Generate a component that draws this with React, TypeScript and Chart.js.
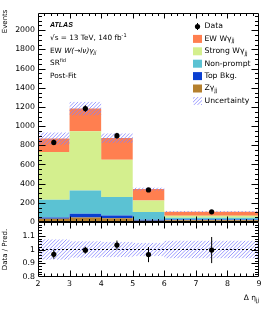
import React, { useEffect, useRef } from "react";
import { Chart, registerables } from "chart.js";

Chart.register(...registerables);

// ---------------- data ----------------
const binEdges = [2, 3, 4, 5, 6, 9];
const binCenters = [2.5, 3.5, 4.5, 5.5, 7.5];
const xTickValues = [2, 3, 4, 5, 6, 7, 8, 9];
const mainTickValues = [0, 200, 400, 600, 800, 1000, 1200, 1400, 1600, 1800, 2000];
const ratioTickValues = [0.8, 0.9, 1.0, 1.1];

// per-sample yields (stack order bottom -> top)
const zgjj = [33, 48, 38, 14, 17];
const topBkg = [15, 39, 31, 10, 10];
const nonPrompt = [184, 241, 192, 81, 18];
const strongWgjj = [498, 618, 389, 118, 21];
const ewWgjj = [140, 237, 225, 121, 42];

const uncertainty = [65, 72, 50, 17, 7];

const dataValues = [830, 1183, 900, 335, 106];
const dataErrors = [29, 34, 30, 18, 10];

const ratioValues = [0.965, 0.995, 1.032, 0.963, 0.996];
const ratioErrors = [0.032, 0.025, 0.033, 0.055, 0.095];

const sampleNames = ["Zγjj", "Top Bkg.", "Non-prompt", "Strong Wγjj", "EW Wγjj"];
const sampleColors = ["#b5802e", "#0a3fd1", "#5bc2d3", "#d4ef8e", "#ff7f50"];

const FONT = "DejaVu Sans";
const HATCH = "rgb(128,128,255)";

const stepPoints = (vals: number[]) =>
  binEdges.map((x, i) => ({ x, y: vals[Math.min(i, vals.length - 1)] }));

type Seg = { t: string; f: string; dy?: number };
function drawRich(ctx: CanvasRenderingContext2D, segs: Seg[], x: number, y: number) {
  let cx = x;
  for (const s of segs) {
    ctx.font = s.f;
    ctx.fillText(s.t, cx, y + (s.dy || 0));
    cx += ctx.measureText(s.t).width;
  }
}
function richWidth(ctx: CanvasRenderingContext2D, segs: Seg[]) {
  let w = 0;
  for (const s of segs) {
    ctx.font = s.f;
    w += ctx.measureText(s.t).width;
  }
  return w;
}

// diagonal "/" hatch inside a rectangle
function drawHatch(ctx: CanvasRenderingContext2D, x0: number, x1: number, y0: number, y1: number) {
  const top = Math.min(y0, y1);
  const bot = Math.max(y0, y1);
  ctx.save();
  ctx.beginPath();
  ctx.rect(x0, top, x1 - x0, bot - top);
  ctx.clip();
  ctx.strokeStyle = HATCH;
  ctx.lineWidth = 0.8;
  ctx.beginPath();
  const sp = 3.6;
  const kStart = Math.floor((x0 + top) / sp) * sp;
  for (let k = kStart; k <= x1 + bot + sp; k += sp) {
    ctx.moveTo(k - bot, bot);
    ctx.lineTo(k - top, top);
  }
  ctx.stroke();
  ctx.restore();
}

export default function App() {
  const ref = useRef<HTMLCanvasElement | null>(null);

  useEffect(() => {
    const canvas = ref.current;
    if (!canvas) return;

    // cumulative stacks
    const layers: number[][] = [zgjj, topBkg, nonPrompt, strongWgjj, ewWgjj];
    const cum: number[][] = [];
    layers.forEach((l, k) => {
      cum.push(l.map((v, i) => v + (k > 0 ? cum[k - 1][i] : 0)));
    });
    const total = cum[cum.length - 1];

    const stackDatasets = cum.map((vals, k) => ({
      label: sampleNames[k],
      data: stepPoints(vals),
      yAxisID: "y",
      stepped: true,
      fill: k === 0 ? "origin" : "-1",
      backgroundColor: sampleColors[k],
      borderColor: "rgba(0,0,0,0)",
      borderWidth: 0,
      pointRadius: 0,
      order: 5,
    }));

    const datasets: any[] = [
      ...stackDatasets,
      {
        label: "Data",
        data: binCenters.map((x, i) => ({ x, y: dataValues[i] })),
        yAxisID: "y",
        showLine: false,
        pointRadius: 2.6,
        pointBackgroundColor: "#000",
        pointBorderWidth: 0,
        borderColor: "#000",
        order: 1,
      },
      {
        label: "unity",
        data: [
          { x: binEdges[0], y: 1 },
          { x: binEdges[binEdges.length - 1], y: 1 },
        ],
        yAxisID: "y2",
        borderColor: "#000",
        borderWidth: 1,
        borderDash: [2, 2],
        pointRadius: 0,
        fill: false,
        order: 2,
      },
      {
        label: "Ratio",
        data: binCenters.map((x, i) => ({ x, y: ratioValues[i] })),
        yAxisID: "y2",
        showLine: false,
        pointRadius: 2.6,
        pointBackgroundColor: "#000",
        pointBorderWidth: 0,
        borderColor: "#000",
        order: 1,
      },
    ];

    const tickFont = { family: FONT, size: 7.8 };

    const decorations = {
      id: "decorations",
      afterDatasetDraw(chart: any, args: any) {
        if (args.index !== 0) return; // last stack layer drawn
        const ctx: CanvasRenderingContext2D = chart.ctx;
        const xs = chart.scales.x;
        const ys = chart.scales.y;
        const yr = chart.scales.y2;
        for (let i = 0; i < total.length; i++) {
          const x0 = xs.getPixelForValue(binEdges[i]);
          const x1 = xs.getPixelForValue(binEdges[i + 1]);
          drawHatch(
            ctx,
            x0,
            x1,
            ys.getPixelForValue(total[i] - uncertainty[i]),
            ys.getPixelForValue(total[i] + uncertainty[i])
          );
          const rel = uncertainty[i] / total[i];
          drawHatch(ctx, x0, x1, yr.getPixelForValue(1 - rel), yr.getPixelForValue(1 + rel));
        }
      },
      afterDatasetsDraw(chart: any) {
        const ctx: CanvasRenderingContext2D = chart.ctx;
        const xs = chart.scales.x;
        const ys = chart.scales.y;
        const yr = chart.scales.y2;
        ctx.save();
        ctx.strokeStyle = "#000";
        ctx.lineWidth = 1;
        // error bars
        binCenters.forEach((x, i) => {
          const px = xs.getPixelForValue(x);
          ctx.beginPath();
          ctx.moveTo(px, ys.getPixelForValue(dataValues[i] - dataErrors[i]));
          ctx.lineTo(px, ys.getPixelForValue(dataValues[i] + dataErrors[i]));
          ctx.moveTo(px, yr.getPixelForValue(ratioValues[i] - ratioErrors[i]));
          ctx.lineTo(px, yr.getPixelForValue(ratioValues[i] + ratioErrors[i]));
          ctx.stroke();
        });
        ctx.restore();
      },
      afterDraw(chart: any) {
        const ctx: CanvasRenderingContext2D = chart.ctx;
        const xs = chart.scales.x;
        const ys = chart.scales.y;
        const yr = chart.scales.y2;
        ctx.save();
        ctx.strokeStyle = "#000";
        ctx.fillStyle = "#000";
        ctx.lineWidth = 1;

        const panel = (
          y: any,
          lo: number,
          hi: number,
          step: number,
          major: number,
          yMaj: number,
          yMin: number,
          xMaj: number,
          xMin: number
        ) => {
          const l = Math.round(xs.left) + 0.5;
          const r = Math.round(xs.right) - 0.5;
          const t = Math.round(y.top) + 0.5;
          const b = Math.round(y.bottom) - 0.5;
          ctx.beginPath();
          ctx.rect(l, t, r - l, b - t);
          const n = Math.round((hi - lo) / step);
          for (let i = 1; i < n; i++) {
            const v = lo + i * step;
            if (v >= y.max - 1e-9) continue;
            const isMaj = Math.abs(v / major - Math.round(v / major)) < 1e-6;
            const len = isMaj ? yMaj : yMin;
            const py = Math.round(y.getPixelForValue(v)) + 0.5;
            ctx.moveTo(l, py);
            ctx.lineTo(l + len, py);
            ctx.moveTo(r, py);
            ctx.lineTo(r - len, py);
          }
          const nx = Math.round((xs.max - xs.min) / 0.2);
          for (let i = 1; i < nx; i++) {
            const v = xs.min + i * 0.2;
            const isMaj = Math.abs(v - Math.round(v)) < 1e-6;
            const len = isMaj ? xMaj : xMin;
            const px = Math.round(xs.getPixelForValue(v)) + 0.5;
            ctx.moveTo(px, t);
            ctx.lineTo(px, t + len);
            ctx.moveTo(px, b);
            ctx.lineTo(px, b - len);
          }
          ctx.stroke();
        };
        panel(ys, 0, 2200, 50, 200, 7, 3.5, 5, 2.5);
        panel(yr, 0.8, 1.2, 0.02, 0.1, 7, 3.5, 6, 3);

        // axis titles
        ctx.textBaseline = "middle";
        ctx.font = `7px "${FONT}"`;
        ctx.save();
        ctx.translate(5, 9.5);
        ctx.rotate(-Math.PI / 2);
        ctx.textAlign = "right";
        ctx.fillText("Events", 0, 0);
        ctx.restore();
        ctx.save();
        ctx.translate(5, (yr.top + yr.bottom) / 2);
        ctx.rotate(-Math.PI / 2);
        ctx.textAlign = "center";
        ctx.fillText("Data / Pred.", 0, 0);
        ctx.restore();

        ctx.textAlign = "left";
        const big = `7.5px "${FONT}"`;
        const sub = `5.5px "${FONT}"`;
        const xt: Seg[] = [
          { t: "Δ η", f: big },
          { t: "jj", f: sub, dy: 2.5 },
        ];
        drawRich(ctx, xt, xs.right - richWidth(ctx, xt), 298);

        // labels block
        const tf = `7.3px "${FONT}"`;
        const tfi = `italic 7.3px "${FONT}"`;
        const tsup = `5px "${FONT}"`;
        const tsubi = `italic 5px "${FONT}"`;
        const bx = 50;
        drawRich(ctx, [{ t: "ATLAS", f: `italic bold 7px "Liberation Sans"` }], bx, 25);
        drawRich(
          ctx,
          [
            { t: "√s = 13 TeV, 140 fb", f: tf },
            { t: "-1", f: tsup, dy: -2.5 },
          ],
          bx,
          38
        );
        drawRich(
          ctx,
          [
            { t: "EW ", f: tf },
            { t: "W(→lν)γ", f: tfi },
            { t: "jj", f: tsubi, dy: 2 },
          ],
          bx,
          51
        );
        drawRich(
          ctx,
          [
            { t: "SR", f: tf },
            { t: "fid", f: tsup, dy: -2.5 },
          ],
          bx,
          63.5
        );
        drawRich(ctx, [{ t: "Post-Fit", f: tf }], bx, 76);

        // legend
        const lf = `7.7px "${FONT}"`;
        const lsub = `5.6px "${FONT}"`;
        const lx = 193;
        const tx = 204.5;
        const rowY = (i: number) => 26.5 + i * 12.4;
        ctx.beginPath();
        ctx.arc(lx + 4.5, rowY(0), 2.6, 0, Math.PI * 2);
        ctx.fill();
        ctx.beginPath();
        ctx.moveTo(lx + 4.5, rowY(0) - 3.5);
        ctx.lineTo(lx + 4.5, rowY(0) + 3.5);
        ctx.stroke();
        drawRich(ctx, [{ t: "Data", f: lf }], tx, rowY(0));
        const legendOrder = [4, 3, 2, 1, 0];
        legendOrder.forEach((k, j) => {
          const yy = rowY(j + 1);
          ctx.fillStyle = sampleColors[k];
          ctx.fillRect(lx, yy - 4, 9, 8);
          ctx.fillStyle = "#000";
          const name = sampleNames[k];
          const segs: Seg[] = name.endsWith("jj")
            ? [
                { t: name.slice(0, -2), f: lf },
                { t: "jj", f: lsub, dy: 2 },
              ]
            : [{ t: name, f: lf }];
          drawRich(ctx, segs, tx, yy);
        });
        const yu = rowY(6);
        drawHatch(ctx, lx, lx + 9, yu - 4, yu + 4);
        ctx.fillStyle = "#000";
        drawRich(ctx, [{ t: "Uncertainty", f: lf }], tx, yu);
        ctx.restore();
      },
    };

    const chart = new Chart(canvas, {
      type: "line",
      data: { datasets },
      options: {
        animation: false,
        responsive: false,
        maintainAspectRatio: false,
        devicePixelRatio: 1,
        events: [],
        layout: { padding: { left: 0, right: 15, top: 13, bottom: 0 } },
        plugins: {
          legend: { display: false },
          tooltip: { enabled: false },
          filler: { propagate: false },
        },
        scales: {
          x: {
            type: "linear",
            min: 2,
            max: 9,
            position: "bottom",
            grid: { display: false, drawTicks: false },
            border: { display: false },
            afterBuildTicks: (s: any) => {
              s.ticks = xTickValues.map((v) => ({ value: v }));
            },
            afterFit: (s: any) => {
              s.height = 32;
            },
            ticks: {
              font: tickFont,
              color: "#000",
              padding: 2,
              maxRotation: 0,
              autoSkip: false,
              callback: (v: any) => String(v),
            },
          },
          y: {
            type: "linear",
            min: 0,
            max: 2180,
            position: "left",
            stack: "panels",
            stackWeight: 3.8,
            weight: 1,
            grid: { display: false, drawTicks: false },
            border: { display: false },
            afterBuildTicks: (s: any) => {
              s.ticks = mainTickValues.map((v) => ({ value: v }));
            },
            afterFit: (s: any) => {
              s.width = 38;
            },
            ticks: {
              font: tickFont,
              color: "#000",
              padding: 3,
              autoSkip: false,
              callback: (v: any) => String(v),
            },
          },
          y2: {
            type: "linear",
            min: 0.8,
            max: 1.2,
            position: "left",
            stack: "panels",
            stackWeight: 1,
            weight: 0,
            grid: { display: false, drawTicks: false },
            border: { display: false },
            afterBuildTicks: (s: any) => {
              s.ticks = ratioTickValues.map((v) => ({ value: v }));
            },
            afterFit: (s: any) => {
              s.width = 38;
            },
            ticks: {
              font: tickFont,
              color: "#000",
              padding: 3,
              autoSkip: false,
              callback: (v: any) => String(Number(Number(v).toFixed(2))),
            },
          },
        },
      } as any,
      plugins: [decorations],
    });

    return () => chart.destroy();
  }, []);

  return (
    <div style={{ position: "fixed", left: 0, top: 0, width: 274, height: 309, background: "#fff" }}>
      <canvas ref={ref} width={274} height={309} style={{ width: 274, height: 309, display: "block" }} />
    </div>
  );
}
